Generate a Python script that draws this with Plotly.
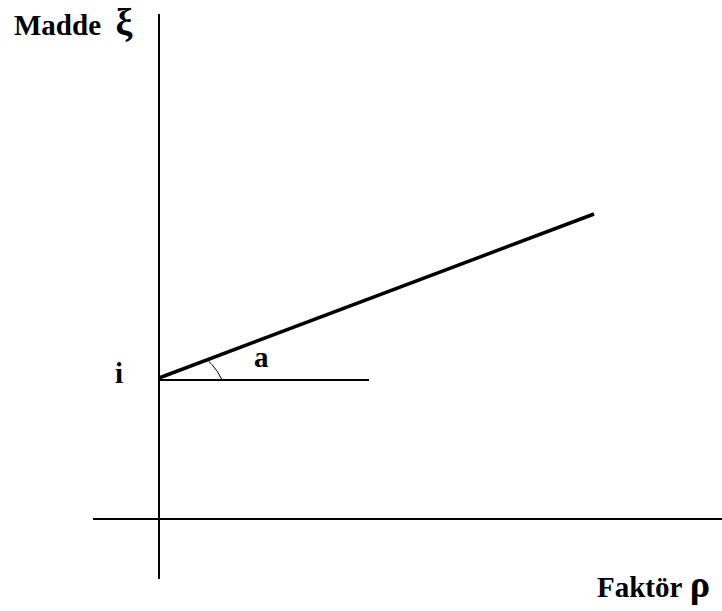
import numpy as np
import plotly.graph_objects as go

W, H = 722, 611
FONT = dict(family="Liberation Serif", size=29, color="black", weight="bold")

# axes of the diagram (origin where they cross)
y_axis_x = [0, 0]
y_axis_y = [-60, 505]
x_axis_x = [-66, 563]
x_axis_y = [0, 0]

# item line: starts at the intercept i on the vertical axis
factor = [0, 435]
item = [141, 305]

# horizontal reference from the intercept
ref_x = [0, 210]
ref_y = [139, 139]

# small arc marking the angle a
slope = (item[1] - item[0]) / (factor[1] - factor[0])
theta = np.linspace(0, np.arctan(slope), 20)
radius = np.linspace(63, 53, 20)
arc_x = radius * np.cos(theta)
arc_y = ref_y[0] + radius * np.sin(theta)

fig = go.Figure()
line_black = dict(color="black")
fig.add_trace(go.Scatter(x=y_axis_x, y=y_axis_y, mode="lines", line=dict(line_black, width=2)))
fig.add_trace(go.Scatter(x=x_axis_x, y=x_axis_y, mode="lines", line=dict(line_black, width=2)))
fig.add_trace(go.Scatter(x=ref_x, y=ref_y, mode="lines", line=dict(line_black, width=2)))
fig.add_trace(go.Scatter(x=factor, y=item, mode="lines", line=dict(line_black, width=3.5)))
fig.add_trace(go.Scatter(x=arc_x, y=arc_y, mode="lines", line=dict(line_black, width=1)))

greek = '<span style="font-size:38px">%s</span>'
labels = [
    ("Madde&nbsp;&nbsp;" + greek % "ξ", -147, 497),
    ("i", -46, 146),
    ("a", 93, 162),
    ("Faktör&nbsp;" + greek % "ρ", 436, -65),
]
for text, x, y in labels:
    fig.add_annotation(x=x, y=y, text=text, showarrow=False, xanchor="left", yanchor="middle", font=FONT)

fig.update_layout(
    width=W, height=H,
    margin=dict(l=0, r=0, t=0, b=0),
    paper_bgcolor="white", plot_bgcolor="white",
    showlegend=False,
    xaxis=dict(range=[-159, 563], visible=False, fixedrange=True),
    yaxis=dict(range=[-92, 519], visible=False, fixedrange=True),
)

# drop the default page margin so the figure sits at the window corner
fig.write_html("out.html", config={"displayModeBar": False},
               post_script="document.body.style.margin='0';")
